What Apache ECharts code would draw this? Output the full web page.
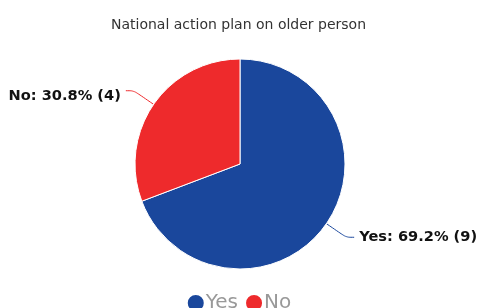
<!DOCTYPE html>
<html>
<head>
<meta charset="utf-8">
<script src="https://cdn.jsdelivr.net/npm/echarts@6/dist/echarts.min.js"></script>
<style>
  html, body { margin: 0; padding: 0; background: #fff; }
  #chart { width: 477px; height: 308px; }
</style>
</head>
<body>
<div id="chart"></div>
<script>
{
    /* data */
    const categories = ['Yes', 'No'];
    const values = [9, 4];
    const colors = ['#1a479c', '#ee2a2c'];

    const chart = echarts.init(document.getElementById('chart'));

    const option = {
        animation: false,
        title: {
            text: 'National action plan on older person',
            left: 'center',
            top: 13,
            textStyle: { fontFamily: 'DejaVu Sans', fontSize: 14, fontWeight: 'normal', color: '#333' }
        },
        color: colors,
        legend: {
            data: categories,
            top: 288,
            left: 'center',
            icon: 'circle',
            itemWidth: 18,
            itemHeight: 18,
            itemGap: 6,
            textStyle: { fontFamily: 'DejaVu Sans', fontSize: 20, color: '#999', padding: [0, 0, 0, -4] }
        },
        series: [{
            type: 'pie',
            center: [240, 164],
            radius: 105,
            startAngle: 90,
            clockwise: true,
            data: categories.map((name, i) => ({ name, value: values[i] })),
            label: {
                formatter: p => p.name + ': ' + p.percent.toFixed(1) + '% (' + p.value + ')',
                fontFamily: 'DejaVu Sans',
                fontSize: 14.6,
                fontWeight: 'bold',
                color: '#111',
                overflow: 'none'
            },
            labelLayout: p => (p.dataIndex === 1 ? { dy: 5 } : {}),
            labelLine: { length: 24, length2: 8, smooth: true, lineStyle: { width: 1 } },
            itemStyle: { borderColor: '#fff', borderWidth: 1 }
        }]
    };

    chart.setOption(option);
}
</script>
</body>
</html>
